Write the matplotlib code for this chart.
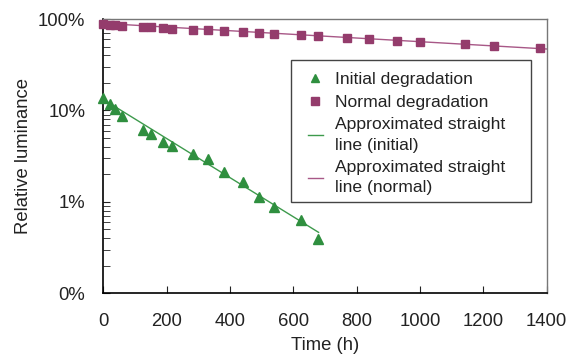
import matplotlib
matplotlib.use("Agg")
import matplotlib.pyplot as plt
from matplotlib.patches import Rectangle
from matplotlib.ticker import FuncFormatter, LogLocator, NullFormatter

plt.rcParams['font.family'] = ['Liberation Sans', 'DejaVu Sans']

# --- data ---
initial_t = [0, 20, 36, 60, 124, 150, 190, 216, 282, 330, 380, 440, 492, 540, 626, 678]
initial_v = [0.138, 0.117, 0.103, 0.0875, 0.0615, 0.0552, 0.0455, 0.0408,
             0.0331, 0.0292, 0.0212, 0.0163, 0.0112, 0.00877, 0.00628, 0.00392]

normal_t = [0, 20, 36, 60, 124, 150, 190, 216, 282, 330, 380, 440, 492, 540,
            626, 678, 770, 840, 928, 1000, 1142, 1234, 1380]
normal_v = [0.875, 0.866, 0.853, 0.838, 0.824, 0.811, 0.797, 0.783, 0.764, 0.752,
            0.733, 0.721, 0.703, 0.685, 0.663, 0.652, 0.620, 0.605, 0.579, 0.565,
            0.533, 0.511, 0.478]

# end points of the approximated straight lines
fit_initial_t = [0, 680]
fit_initial_v = [0.132, 0.00464]
fit_normal_t = [0, 1400]
fit_normal_v = [0.895, 0.470]

x_ticks = [0, 200, 400, 600, 800, 1000, 1200, 1400]
y_ticks = [0.001, 0.01, 0.1, 1]

green = '#2f8f3f'
purple = '#943c6c'
text_c = '#222222'
W, H = 566, 356

fig = plt.figure(figsize=(W / 100, H / 100), dpi=100)
ax = fig.add_axes([103.3 / W, 1 - 293.3 / H, 443.2 / W, 274.3 / H])

ax.plot(fit_initial_t, fit_initial_v, color='#3d9a4c', lw=1.0,
        label='Approximated straight\nline (initial)', zorder=2)
ax.plot(fit_normal_t, fit_normal_v, color='#a85887', lw=1.0,
        label='Approximated straight\nline (normal)', zorder=2)
ax.plot(initial_t, initial_v, ls='none', marker='^', ms=7, color=green,
        label='Initial degradation', clip_on=False, zorder=3)
ax.plot(normal_t, normal_v, ls='none', marker='s', ms=6, color=purple,
        label='Normal degradation', clip_on=False, zorder=3)

ax.set_yscale('log')
ax.set_xlim(0, 1400)
ax.set_ylim(0.001, 1)
ax.set_xticks(x_ticks)
ax.set_yticks(y_ticks)
ax.yaxis.set_major_formatter(FuncFormatter(lambda v, p: f'{v * 100:.0f}%'))
ax.yaxis.set_minor_locator(LogLocator(base=10, subs=range(2, 10)))
ax.yaxis.set_minor_formatter(NullFormatter())

ax.tick_params(axis='both', which='both', direction='in', labelsize=13.3,
               colors=text_c)
ax.tick_params(axis='x', which='major', length=5, pad=14)
ax.tick_params(axis='y', which='major', length=5, pad=13)
ax.tick_params(axis='y', which='minor', length=5)

for side in ['left', 'bottom']:
    ax.spines[side].set_color('black')
    ax.spines[side].set_linewidth(1.2)
for side in ['top', 'right']:
    ax.spines[side].set_color('#777777')
    ax.spines[side].set_linewidth(1.0)

ax.set_xlabel('Time (h)', fontsize=13.3, color=text_c, labelpad=5)
ax.set_ylabel('Relative luminance', fontsize=13.3, color=text_c, labelpad=4)

# legend without its own frame, the box is drawn separately (wider padding left/right)
handles, labels = ax.get_legend_handles_labels()
order = [2, 3, 0, 1]
leg = fig.legend([handles[i] for i in order], [labels[i] for i in order],
                 loc='upper left', bbox_to_anchor=(308 / W, 1 - 72 / H),
                 fontsize=12.6, frameon=False, handlelength=0.85,
                 handletextpad=0.72, labelspacing=0.42, borderpad=0,
                 borderaxespad=0, markerscale=0.85)
for t in leg.get_texts():
    t.set_color(text_c)
    t.set_linespacing(1.45)
fig.patches.append(Rectangle((291 / W, 1 - 201.7 / H), (530.7 - 291) / W,
                             (201.7 - 60) / H, transform=fig.transFigure,
                             facecolor='white', edgecolor='#444444', lw=1.0,
                             zorder=4))
leg.set_zorder(5)

fig.savefig('out.png', dpi=100)
